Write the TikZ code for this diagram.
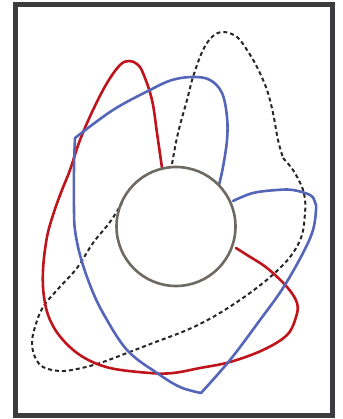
\documentclass[tikz,border=0pt]{standalone}
\definecolor{framegray}{RGB}{60,60,62}
\definecolor{hubgray}{RGB}{110,106,98}
\definecolor{curvered}{RGB}{192,20,28}
\definecolor{curveblue}{RGB}{85,102,184}
\tikzset{
  frameline/.style={draw=framegray,line width=5pt},
  hubline/.style={draw=hubgray,line width=2.6pt},
  redline/.style={draw=curvered,line width=2.6pt,line cap=round,line join=round},
  blueline/.style={draw=curveblue,line width=2.6pt,line cap=round,line join=round},
  dotline/.style={draw=black!85,line width=2pt,dash pattern=on 4pt off 3pt},
}
\begin{document}
\begin{tikzpicture}[x=1pt,y=-1pt]
\useasboundingbox (0,0) rectangle (342,419);
\fill[white] (0,0) rectangle (342,419);
\draw[frameline] (15.5,5) rectangle (332.5,415);

% dotted curve
\draw[dotline] plot[smooth,tension=0.6] coordinates {
 (172,164) (178,133) (187,100) (193,77) (203,50) (213,36) (224,32) (237,37)
 (247,50) (257,67) (267,90) (273,113) (278,140) (283,158)};
\draw[dotline] plot[smooth,tension=0.6] coordinates {
 (283,158) (293,170) (302,187) (305,200) (305,213) (302,235) (293,253) (280,268)
 (263,283) (240,300) (213,317) (187,330) (153,343) (127,353) (100,363) (77,369)
 (60,371) (43,367) (35,357) (32,343) (35,327) (43,307) (58,289) (77,268)
 (93,243) (110,222) (122,203)};

% red curve
\draw[redline] plot[smooth,tension=0.6] coordinates {
 (162,168) (157,133) (152,100) (143,73) (137,64) (129,61) (120,65) (107,83)
 (93,110) (80,140) (70,170) (62,190) (54,212) (47,237) (43,270) (44,297)
 (50,320) (63,340) (83,357) (110,368) (150,373) (173,373) (200,368) (230,362)
 (263,350) (287,335) (296,317) (297,303) (287,287) (267,268) (247,255) (236,248)};

% blue curve
\draw[blueline] plot[smooth,tension=0.6] coordinates {
 (219,185) (223,167) (227,140) (227,117) (222,93) (210,80) (193,77) (172,80)
 (150,90) (113,110) (75,138)};
\draw[blueline] plot[smooth,tension=0.6] coordinates {
 (75,138) (74,167) (74,210) (75,230) (80,255) (90,285) (103,313) (127,350)
 (157,373) (180,387) (201,393)};
\draw[blueline] plot[smooth,tension=0.6] coordinates {
 (201,393) (230,360) (260,320) (283,288) (303,253) (313,230) (316,210)
 (315,202) (310,195) (293,190) (277,190) (253,193) (233,201)};

% hub circle
\draw[hubline] (176,226.5) circle[radius=59.5];
\end{tikzpicture}
\end{document}
